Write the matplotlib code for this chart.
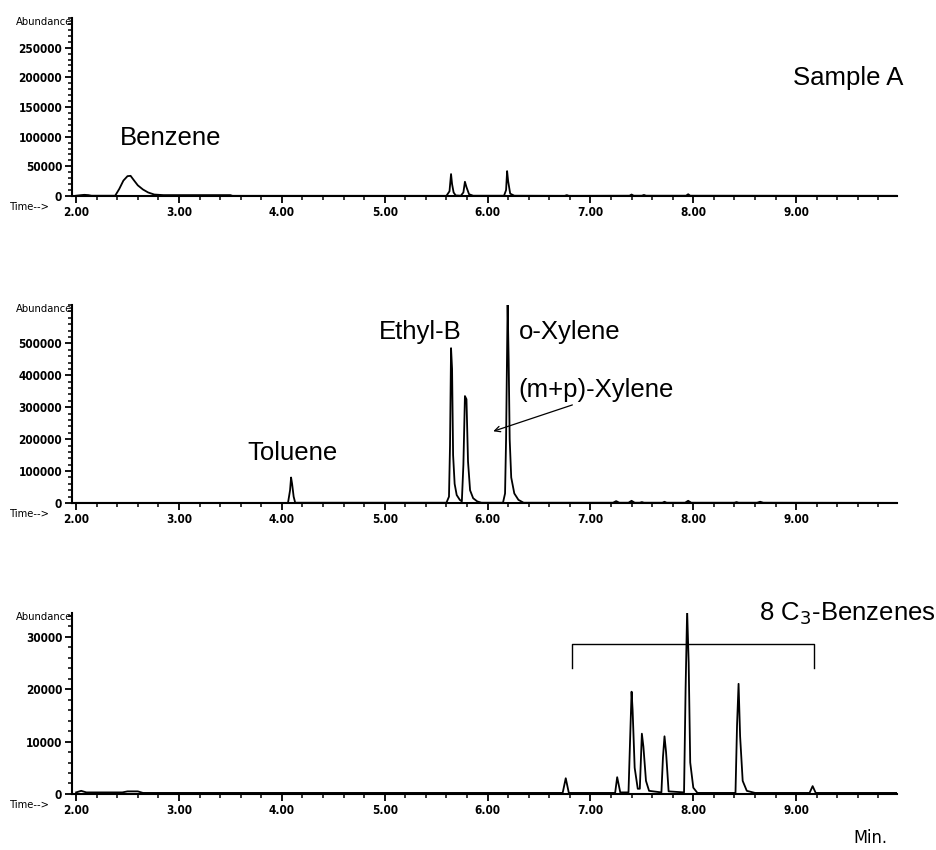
import matplotlib
matplotlib.use("Agg")
import matplotlib.pyplot as plt
from matplotlib.ticker import MultipleLocator, FixedLocator

# Chromatogram traces: retention time (min) and abundance
a_time = [2.00, 2.05, 2.08, 2.12, 2.15, 2.38, 2.42, 2.46, 2.50, 2.53, 2.56, 2.60, 2.65,
          2.70, 2.76, 2.85, 3.50, 3.52, 5.60, 5.63, 5.645, 5.655, 5.67, 5.69, 5.74, 5.765,
          5.78, 5.795, 5.82, 5.86, 6.16, 6.18, 6.19, 6.20, 6.22, 6.26, 6.75, 6.77, 6.79,
          7.38, 7.40, 7.42, 7.50, 7.52, 7.54, 7.93, 7.95, 7.97, 9.98]
a_abund = [500, 1500, 2000, 1500, 500, 500, 12000, 26000, 33500, 34000, 27000, 18000, 11000,
           6000, 2500, 1500, 1500, 300, 300, 8000, 37000, 20000, 6000, 1000, 500, 6000,
           24000, 15000, 3000, 500, 500, 10000, 42000, 25000, 4000, 500, 300, 1500, 300,
           500, 2500, 500, 500, 1800, 500, 500, 3000, 500, 300]

b_time = [2.00, 4.06, 4.08, 4.09, 4.10, 4.115, 4.13, 5.60, 5.625, 5.635, 5.645, 5.655, 5.665,
          5.68, 5.70, 5.73, 5.75, 5.765, 5.78, 5.795, 5.81, 5.83, 5.86, 5.90, 5.94, 6.15,
          6.17, 6.18, 6.195, 6.205, 6.215, 6.23, 6.26, 6.30, 6.35, 7.22, 7.25, 7.28, 7.37,
          7.40, 7.43, 7.48, 7.50, 7.52, 7.70, 7.72, 7.74, 7.92, 7.95, 7.98, 8.40, 8.42, 8.44,
          8.62, 8.65, 8.68, 9.98]
b_abund = [500, 500, 40000, 80000, 60000, 20000, 1000, 1000, 20000, 180000, 485000, 420000,
           150000, 60000, 25000, 10000, 5000, 120000, 335000, 325000, 130000, 40000, 15000,
           5000, 1000, 1000, 30000, 200000, 625000, 450000, 200000, 80000, 30000, 10000, 1000,
           1000, 6000, 1000, 1000, 7000, 1000, 1000, 3000, 1000, 1000, 4000, 1000, 1000, 7000,
           1000, 1000, 3000, 1000, 1000, 4000, 1000, 500]

c_time = [2.00, 2.05, 2.10, 2.45, 2.50, 2.60, 2.65, 6.73, 6.76, 6.79, 7.24, 7.26, 7.29, 7.37,
          7.385, 7.40, 7.41, 7.43, 7.46, 7.48, 7.50, 7.515, 7.54, 7.57, 7.69, 7.705, 7.72,
          7.735, 7.76, 7.91, 7.925, 7.94, 7.955, 7.97, 8.00, 8.04, 8.41, 8.425, 8.44, 8.455,
          8.48, 8.52, 8.60, 9.13, 9.16, 9.19, 9.98]
c_abund = [300, 600, 300, 300, 500, 500, 200, 200, 3000, 200, 200, 3200, 300, 300,
           10000, 19500, 16000, 5000, 1000, 1000, 11500, 9000, 2500, 600, 300, 7000, 11000,
           8000, 500, 300, 20000, 35000, 25000, 6000, 1200, 200, 200, 13000, 21000, 11000,
           2500, 600, 200, 200, 1500, 200, 200]

x_ticks = [2, 3, 4, 5, 6, 7, 8, 9]
x_ticklabels = ["2.00", "3.00", "4.00", "5.00", "6.00", "7.00", "8.00", "9.00"]
a_yticks = [0, 50000, 100000, 150000, 200000, 250000]
b_yticks = [0, 100000, 200000, 300000, 400000, 500000]
c_yticks = [0, 10000, 20000, 30000]

# C3-benzene bracket (time range, abundance of bar and of the drop ends)
bracket_t = [6.82, 9.17]
bracket_top = 28500
bracket_end = 24000

narrow = ["DejaVu Sans"]
sans = ["Liberation Sans", "DejaVu Sans"]

fig = plt.figure(figsize=(9.37, 8.5), dpi=100)

panels = [
    # rect, time, abundance, ylim top, major ticks, minor step
    ([0.0768, 0.7694, 0.8805, 0.2094], a_time, a_abund, 300000, a_yticks, 10000),
    ([0.0768, 0.4082, 0.8805, 0.2329], b_time, b_abund, 620000, b_yticks, 20000),
    ([0.0768, 0.0659, 0.8805, 0.2129], c_time, c_abund, 34500, c_yticks, 2000),
]

axes = []
for rect, t, y, ytop, yticks, minor in panels:
    ax = fig.add_axes(rect)
    ax.plot(t, y, color="black", lw=1.3)
    ax.set_xlim(1.96, 9.98)
    ax.set_ylim(0, ytop)
    for s in ("top", "right"):
        ax.spines[s].set_visible(False)
    for s in ("left", "bottom"):
        ax.spines[s].set_linewidth(1.5)
    ax.xaxis.set_major_locator(FixedLocator(x_ticks))
    ax.set_xticklabels(x_ticklabels)
    ax.xaxis.set_minor_locator(MultipleLocator(0.2))
    ax.yaxis.set_major_locator(FixedLocator(yticks))
    ax.yaxis.set_minor_locator(MultipleLocator(minor))
    ax.tick_params(which="major", direction="out", length=5, width=1.3, pad=2,
                   labelsize=8.5)
    ax.tick_params(which="minor", direction="out", length=3, width=1.1)
    for lab in ax.get_xticklabels() + ax.get_yticklabels():
        lab.set_family(narrow)
        lab.set_fontweight("bold")
        lab.set_fontstretch("condensed")
    ax.annotate("Time-->", xy=(0, 0), xycoords="axes fraction", xytext=(-42, -11),
                textcoords="offset pixels", ha="center", va="center", fontsize=8,
                family=narrow, fontstretch="condensed")
    ax.annotate("Abundance", xy=(0, 1), xycoords="axes fraction", xytext=(0, -4),
                textcoords="offset pixels", ha="right", va="center", fontsize=8,
                family=narrow, fontstretch="condensed")
    axes.append(ax)

ax1, ax2, ax3 = axes

ax1.text(2.43, 98000, "Benzene", fontsize=18.5, family=sans, va="center")
ax1.text(8.97, 199000, "Sample A", fontsize=18.5, family=sans, va="center")

ax2.text(3.67, 157000, "Toluene", fontsize=18.5, family=sans, va="center")
ax2.text(4.94, 535000, "Ethyl-B", fontsize=18.5, family=sans, va="center")
ax2.text(6.30, 535000, "o-Xylene", fontsize=18.5, family=sans, va="center")
ax2.text(6.30, 354000, "(m+p)-Xylene", fontsize=18.5, family=sans, va="center")
ax2.annotate("", xy=(6.03, 222000), xytext=(6.85, 310000),
             arrowprops=dict(arrowstyle="->", color="black", lw=0.9))

ax3.plot([bracket_t[0], bracket_t[0], bracket_t[1], bracket_t[1]],
         [bracket_end, bracket_top, bracket_top, bracket_end], color="black", lw=1.0)
ax3.text(8.64, 34300, "8 C$_3$-Benzenes", fontsize=18.5, family=sans, va="center")

fig.text(870 / 937, 1 - 838 / 850, "Min.", fontsize=13, family=narrow,
         fontstretch="condensed", ha="center", va="center")

fig.savefig("out.png", dpi=100)
